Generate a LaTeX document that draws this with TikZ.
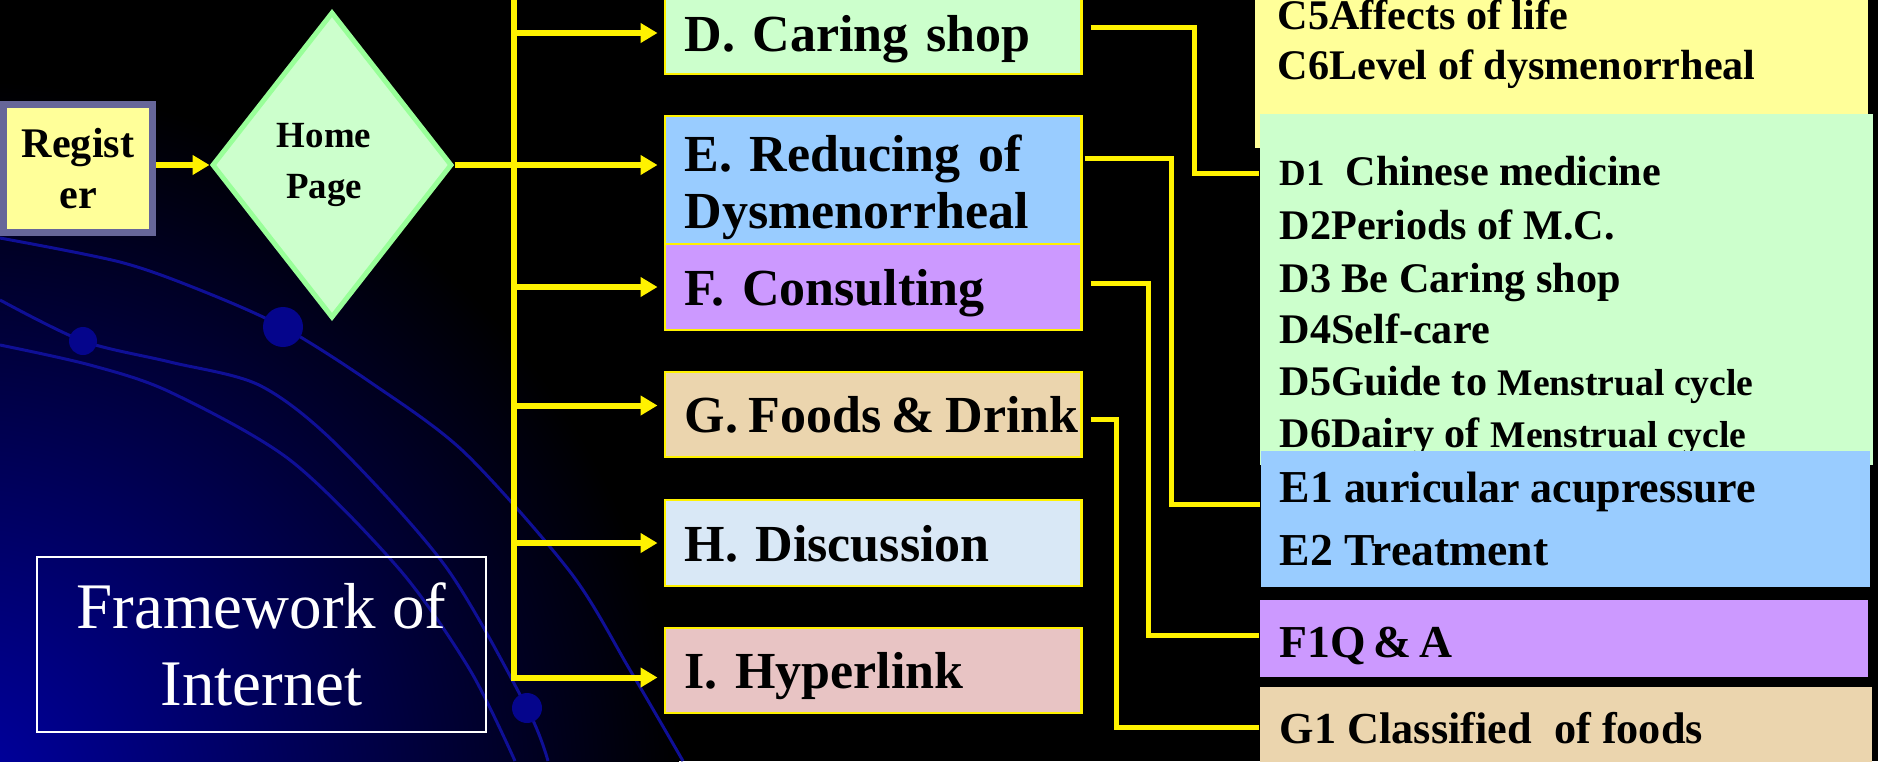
\documentclass[tikz,border=0pt]{standalone}
\usepackage{fontspec}
\setmainfont{Liberation Serif}
\usetikzlibrary{shapes.geometric,arrows.meta,calc}

\definecolor{regfill}{HTML}{FFFF99}
\definecolor{regframe}{HTML}{666699}
\definecolor{homefill}{HTML}{CCFFCC}
\definecolor{homeframe}{HTML}{99FF99}
\definecolor{shopgreen}{HTML}{CCFFCC}
\definecolor{reduceblue}{HTML}{99CCFF}
\definecolor{consultpurple}{HTML}{CC99FF}
\definecolor{foodtan}{HTML}{EBD5AE}
\definecolor{discussblue}{HTML}{D9E8F6}
\definecolor{linkpink}{HTML}{E8C4C4}
\definecolor{glowblue}{RGB}{0,0,165}
\definecolor{orbitblue}{RGB}{15,15,150}
\definecolor{planetblue}{RGB}{5,5,140}

\newcommand\mensize{\fontsize{10.7}{12}\selectfont}
\newcommand\tightspace{\spaceskip=.2em\relax}

\tikzset{
  menubox/.style={rectangle, draw=yellow, line width=0.25mm, minimum width=41.65mm,
    text width=37.65mm, inner xsep=2mm, inner ysep=0pt, align=left, text depth=0pt,
    font=\bfseries\fontsize{14.8}{16}\selectfont},
  listbox/.style={rectangle, inner sep=0pt},
  listitem/.style={anchor=base west, inner sep=0pt, font=\bfseries\fontsize{12}{14}\selectfont},
  feed/.style={draw=yellow, line width=0.6mm, shorten >=0.6mm,
    -{Triangle[length=1.7mm,width=1.9mm]}},
  elbow/.style={draw=yellow, line width=0.5mm},
  orbit/.style={draw=orbitblue, line width=0.3mm}
}

\begin{document}
\begin{tikzpicture}[x=0.1mm, y=-0.1mm]
\useasboundingbox (0,0) rectangle (1878,761);

% background
\fill[black] (0,0) rectangle (1878,761);
\begin{scope}
\clip (0,0) rectangle (1878,761);
\shade[inner color=glowblue, outer color=black] (-40,800) circle (720);
\end{scope}

% orbits
\draw[orbit] plot[smooth] coordinates {(0,238) (120,262) (200,290) (283,327) (370,382) (464,452) (571,573) (630,670) (683,761)};
\draw[orbit] plot[smooth] coordinates {(0,300) (83,341) (170,362) (259,385) (335,443) (446,567) (527,708) (548,761)};
\draw[orbit] plot[smooth] coordinates {(0,345) (90,365) (170,392) (290,460) (400,570) (470,670) (515,761)};
\fill[planetblue] (83,341) circle (14);
\fill[planetblue] (283,327) circle (20);
\fill[planetblue] (527,708) circle (15);

\node[draw=white, line width=0.2mm, minimum width=44.9mm, minimum height=17.5mm,
  align=center, text=white, text depth=0pt, font=\fontsize{18.5}{21.9}\selectfont]
  (frame) at (261.5,644.5) {Framework of\\Internet};

% entry
\node[draw=regframe, line width=0.7mm, fill=regfill, minimum width=14.9mm,
  minimum height=12.8mm, align=center, font=\bfseries\fontsize{12}{14.5}\selectfont]
  (register) at (78,168.5) {Regist\\er};
\node[diamond, aspect=0.79, draw=homeframe, line width=0.5mm, fill=homefill,
  minimum width=24mm, minimum height=30.6mm, inner sep=0pt, align=center,
  font=\bfseries\fontsize{10.5}{14.5}\selectfont] (home) at (332,165) {Home\kern1.6mm\\Page\kern1.6mm};

% menu
\node[menubox, fill=shopgreen, minimum height=8.2mm] (shop) at (873,33) {D. Caring shop};
\node[menubox, fill=reduceblue, minimum height=12.8mm, text depth=5.3mm] (reduce) at (873,180) {E. Reducing of\\Dysmenorrheal};
\node[menubox, fill=consultpurple, minimum height=8.6mm] (consult) at (873,287) {F. Consulting};
\node[menubox, fill=foodtan, minimum height=8.5mm, execute at begin node=\tightspace] (foods) at (873,414.5) {\mbox{G. Foods \& Drink}};
\node[menubox, fill=discussblue, minimum height=8.6mm] (discuss) at (873,543) {H. Discussion};
\node[menubox, fill=linkpink, minimum height=8.5mm] (hyper) at (873,670.5) {I. Hyperlink};

\coordinate (bus) at (514,-10);
\draw[feed, shorten >=0pt] (register.east |- home.west) -- (home.west);
\draw[feed] (home.east) -- (home.east -| reduce.west);
\draw[feed] (bus) |- ($(hyper.west)+(0,7)$);
\draw[feed] (bus |- shop.west) -- (shop.west);
\draw[feed] (bus |- consult.west) -- (consult.west);
\draw[feed] ($(bus |- foods.west)+(0,-9)$) -- ($(foods.west)+(0,-9)$);
\draw[feed] (bus |- discuss.west) -- (discuss.west);

% sub pages
\node[listbox, fill=regfill, minimum width=61.3mm, minimum height=15.8mm] (listC) at (1561.5,69) {};
\node[listitem] (c5) at (1277,29) {C5Affects of life};
\node[listitem] (c6) at (1277,79) {C6Level of dysmenorrheal};

\node[listbox, fill=shopgreen, minimum width=61.3mm, minimum height=35.1mm] (listD) at (1566.5,289.5) {};
\node[listitem] (d1) at (1279,185) {{\fontsize{10.5}{12}\selectfont D1}\ \ Chinese medicine};
\node[listitem] (d2) at (1279,239) {D2Periods of M.C.};
\node[listitem] (d3) at (1279,292) {D3 Be Caring shop};
\node[listitem] (d4) at (1279,343) {D4Self-care};
\node[listitem] (d5) at (1279,395) {D5Guide to {\mensize Menstrual cycle}};
\node[listitem] (d6) at (1279,447) {D6Dairy of {\mensize Menstrual cycle}};

\node[listbox, fill=reduceblue, minimum width=60.9mm, minimum height=13.6mm] (listE) at (1565.5,519) {};
\node[listitem, font=\bfseries\fontsize{12.5}{14}\selectfont] (e1) at (1279,502) {{\fontsize{13}{14}\selectfont E1} auricular acupressure};
\node[listitem, font=\bfseries\fontsize{13}{14}\selectfont] (e2) at (1279,565) {E2 Treatment};

\node[listbox, fill=consultpurple, minimum width=60.8mm, minimum height=7.7mm] (listF) at (1564,638.5) {};
\node[listitem, font=\bfseries\fontsize{13}{14}\selectfont] (f1) at (1279,657) {F1Q\,\&\,A};

\node[listbox, fill=foodtan, minimum width=61.2mm, minimum height=8.8mm] (listG) at (1566,731) {};
\node[listitem, font=\bfseries\fontsize{12.6}{14}\selectfont] (g1) at (1279,743) {G1 Classified\ \ of foods};

% links to sub pages
\draw[elbow] ($(shop.east)+(8,-6)$) -- ++(104,0) |- ($(listD.west |- d1)+(0,3)$);
\draw[elbow] ($(reduce.east)+(2,-22)$) -- ++(87,0) |- ($(listE.west |- e1)+(0,13)$);
\draw[elbow] ($(consult.east)+(8,-4)$) -- ++(58,0) |- ($(listF.west)+(0,-3)$);
\draw[elbow] ($(foods.east)+(8,5)$) -- ++(26,0) |- ($(listG.west)+(0,-4)$);

\end{tikzpicture}
\end{document}
